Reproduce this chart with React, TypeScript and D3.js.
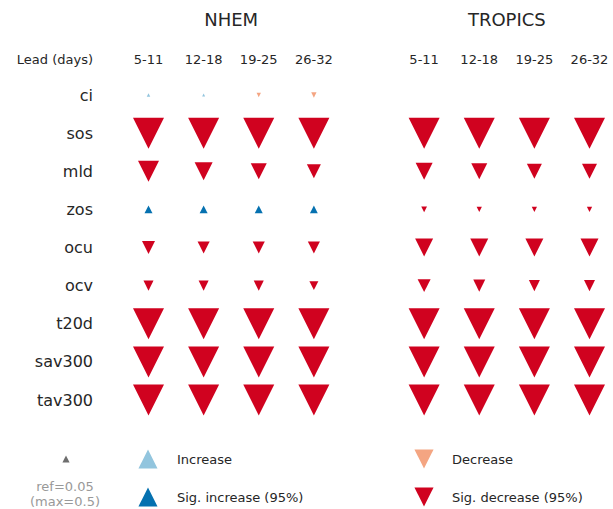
import React from "react";
import * as d3 from "d3";

// Forecast-lead windows and regions
const leads = ["5-11", "12-18", "19-25", "26-32"];
const regions = ["NHEM", "TROPICS"];
const variables = ["ci", "sos", "mld", "zos", "ocu", "ocv", "t20d", "sav300", "tav300"];

// Signed change per variable (rows) and lead (columns); null = not available
const nhemChange: (number | null)[][] = [
  [0.022, 0.018, -0.03, -0.04],
  [-0.5, -0.5, -0.5, -0.5],
  [-0.287, -0.23, -0.194, -0.161],
  [0.072, 0.072, 0.072, 0.07],
  [-0.144, -0.13, -0.13, -0.13],
  [-0.1, -0.1, -0.1, -0.085],
  [-0.5, -0.5, -0.5, -0.5],
  [-0.5, -0.5, -0.5, -0.5],
  [-0.5, -0.5, -0.5, -0.5],
];
const tropicsChange: (number | null)[][] = [
  [null, null, null, null],
  [-0.5, -0.5, -0.5, -0.5],
  [-0.212, -0.194, -0.177, -0.177],
  [-0.045, -0.04, -0.04, -0.04],
  [-0.23, -0.23, -0.23, -0.23],
  [-0.144, -0.129, -0.114, -0.114],
  [-0.5, -0.5, -0.5, -0.5],
  [-0.5, -0.5, -0.5, -0.5],
  [-0.5, -0.5, -0.5, -0.5],
];
// Significance at 95%
const nhemSig: boolean[][] = [
  [false, false, false, false],
  [true, true, true, true],
  [true, true, true, true],
  [true, true, true, true],
  [true, true, true, true],
  [true, true, true, true],
  [true, true, true, true],
  [true, true, true, true],
  [true, true, true, true],
];
const tropicsSig: boolean[][] = [
  [false, false, false, false],
  [true, true, true, true],
  [true, true, true, true],
  [true, true, true, true],
  [true, true, true, true],
  [true, true, true, true],
  [true, true, true, true],
  [true, true, true, true],
  [true, true, true, true],
];

const refValue = 0.05;
const maxValue = 0.5;
const legendValue = 0.25;

const COLORS = {
  sigIncrease: "#0571b0",
  increase: "#92c5de",
  decrease: "#f4a582",
  sigDecrease: "#d0021f",
  ref: "#6e6e6e",
};

const FONT = "'DejaVu Sans', sans-serif";
const TEXT = "#262626";

const W = 613;
const H = 509;

const sizeScale = d3.scalePow().exponent(0.7).domain([0, maxValue]).range([0, 31]).clamp(true);
const slotX = d3.scaleLinear().domain([0, 8]).range([148.5, 589.5]);
const rowY = d3.scaleLinear().domain([0, 8]).range([95, 400]);

function triangle(cx: number, cy: number, size: number, up: boolean): string {
  const h = size / 2;
  const path = d3.path();
  if (up) {
    path.moveTo(cx, cy - h);
    path.lineTo(cx + h, cy + h);
    path.lineTo(cx - h, cy + h);
  } else {
    path.moveTo(cx, cy + h);
    path.lineTo(cx + h, cy - h);
    path.lineTo(cx - h, cy - h);
  }
  path.closePath();
  return path.toString();
}

function markColor(v: number, sig: boolean): string {
  if (v >= 0) return sig ? COLORS.sigIncrease : COLORS.increase;
  return sig ? COLORS.sigDecrease : COLORS.decrease;
}

export default function App() {
  const data = [nhemChange, tropicsChange];
  const sigs = [nhemSig, tropicsSig];
  const headerY = 59;
  const legendRow1 = 459;
  const legendRow2 = 497;

  return (
    <svg
      width={W}
      height={H}
      style={{ position: "absolute", left: 0, top: 0, background: "#fff" }}
      fontFamily={FONT}
    >
      {/* region titles and lead labels */}
      {regions.map((r, ri) => {
        const x0 = slotX(ri * 5);
        const x1 = slotX(ri * 5 + 3);
        return (
          <g key={r}>
            <text x={(x0 + x1) / 2} y={19} textAnchor="middle" dominantBaseline="central" fontSize={18} fill={TEXT}>
              {r}
            </text>
            {leads.map((l, j) => (
              <text
                key={l}
                x={slotX(ri * 5 + j)}
                y={headerY}
                textAnchor="middle"
                dominantBaseline="central"
                fontSize={13}
                fill={TEXT}
              >
                {l}
              </text>
            ))}
          </g>
        );
      })}
      <text x={93} y={headerY} textAnchor="end" dominantBaseline="central" fontSize={13} fill={TEXT}>
        Lead (days)
      </text>

      {/* variable labels */}
      {variables.map((v, i) => (
        <text key={v} x={93} y={rowY(i)} textAnchor="end" dominantBaseline="central" fontSize={16} fill={TEXT}>
          {v}
        </text>
      ))}

      {/* markers */}
      {data.map((grid, ri) =>
        grid.map((row, i) =>
          row.map((v, j) => {
            if (v === null) return null;
            const sig = sigs[ri][i][j];
            return (
              <path
                key={`${ri}-${i}-${j}`}
                d={triangle(slotX(ri * 5 + j), rowY(i), sizeScale(Math.abs(v)), v >= 0)}
                fill={markColor(v, sig)}
              />
            );
          })
        )
      )}

      {/* legend */}
      <path d={triangle(66, legendRow1, sizeScale(refValue) + 1, true)} fill={COLORS.ref} />
      <text x={65} y={486} textAnchor="middle" dominantBaseline="central" fontSize={13} fill="#999">
        ref={refValue}
      </text>
      <text x={65} y={501} textAnchor="middle" dominantBaseline="central" fontSize={13} fill="#999">
        (max={maxValue})
      </text>

      <path d={triangle(148, legendRow1, sizeScale(legendValue), true)} fill={COLORS.increase} />
      <text x={177} y={legendRow1} dominantBaseline="central" fontSize={13} fill={TEXT}>
        Increase
      </text>
      <path d={triangle(148, legendRow2, sizeScale(legendValue), true)} fill={COLORS.sigIncrease} />
      <text x={177} y={legendRow2} dominantBaseline="central" fontSize={13} fill={TEXT}>
        Sig. increase (95%)
      </text>

      <path d={triangle(424, legendRow1, sizeScale(legendValue), false)} fill={COLORS.decrease} />
      <text x={452} y={legendRow1} dominantBaseline="central" fontSize={13} fill={TEXT}>
        Decrease
      </text>
      <path d={triangle(424, legendRow2, sizeScale(legendValue), false)} fill={COLORS.sigDecrease} />
      <text x={452} y={legendRow2} dominantBaseline="central" fontSize={13} fill={TEXT}>
        Sig. decrease (95%)
      </text>
    </svg>
  );
}
